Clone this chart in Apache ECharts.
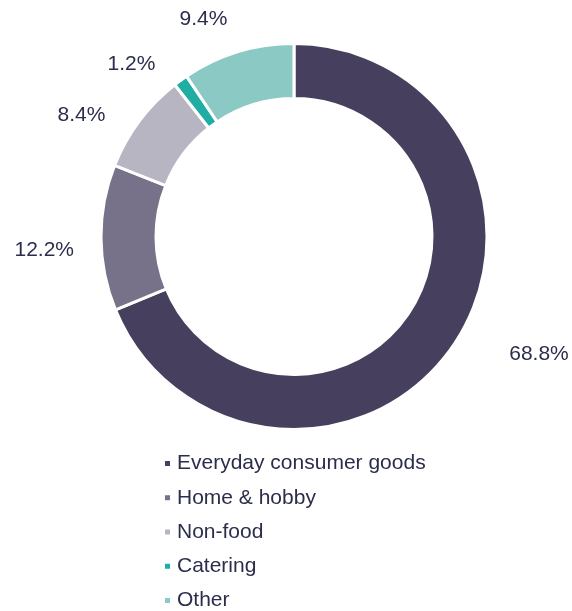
<!DOCTYPE html>
<html>
<head>
<meta charset="utf-8">
<style>
  html, body { margin: 0; padding: 0; background: #ffffff; }
  #chart { width: 572px; height: 611px; }
</style>
<script src="https://cdn.jsdelivr.net/npm/echarts@6/dist/echarts.min.js"></script>
</head>
<body>
<div id="chart"></div>
<script>
// Share of sales by segment (%)
const categories = ['Everyday consumer goods', 'Home & hobby', 'Non-food', 'Catering', 'Other'];
const shares = [68.8, 12.2, 8.4, 1.2, 9.4];
const colors = ['#463f5d', '#77728a', '#b8b5c3', '#20ada4', '#8bc9c5'];

// small per-slice nudges for the outside value labels
const labelNudge = [[20, -10], [14, 12], [0, 16], [1, 13], [5, 1.5]];

const chart = echarts.init(document.getElementById('chart'), null, { renderer: 'canvas' });

chart.setOption({
  animation: false,
  color: colors,
  textStyle: { fontFamily: 'Liberation Sans, Arial, sans-serif' },
  legend: {
    orient: 'vertical',
    left: 163,
    top: 453,
    height: 170,
    padding: 0,
    itemWidth: 9,
    itemHeight: 7,
    itemGap: 13.25,
    icon: 'path://M0,0H10V10H0Z',
    symbolKeepAspect: true,
    data: categories,
    textStyle: { fontSize: 21, color: '#2b2d4b', fontFamily: 'Liberation Sans, Arial, sans-serif' }
  },
  series: [{
    type: 'pie',
    center: [294, 236.5],
    radius: [138, 193],
    startAngle: 90,
    clockwise: true,
    avoidLabelOverlap: false,
    itemStyle: { borderColor: '#ffffff', borderWidth: 3 },
    label: {
      show: true,
      position: 'outside',
      formatter: p => p.value.toFixed(1) + '%',
      fontSize: 21,
      color: '#2b2d4b',
      fontFamily: 'Liberation Sans, Arial, sans-serif'
    },
    labelLine: { show: false, length: 36, length2: 0 },
    labelLayout: p => ({ dx: labelNudge[p.dataIndex][0], dy: labelNudge[p.dataIndex][1] }),
    emphasis: { disabled: true },
    data: categories.map((name, i) => ({ name, value: shares[i] }))
  }]
});
</script>
</body>
</html>
